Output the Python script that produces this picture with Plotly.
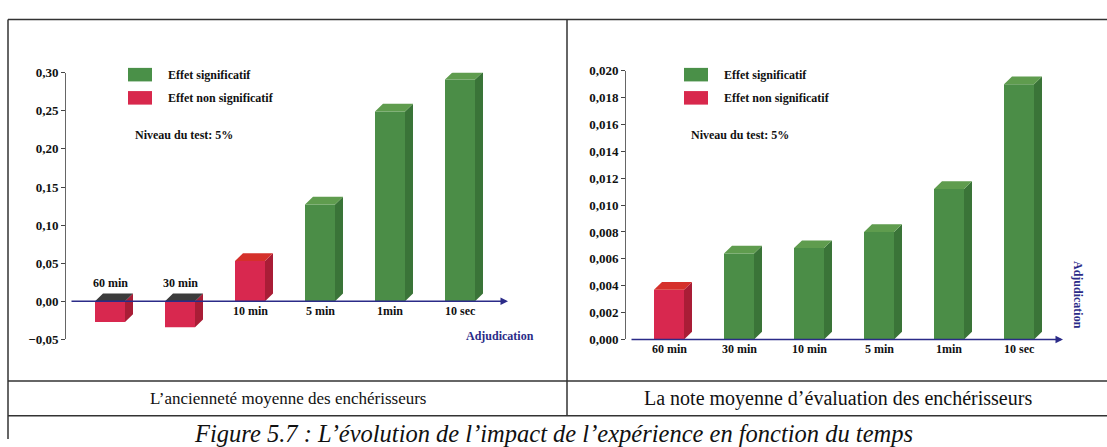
import plotly.graph_objects as go

# ---- data -------------------------------------------------------------
categories_left = ["60 min", "30 min", "10 min", "5 min", "1min", "10 sec"]
values_left = [-0.027, -0.034, 0.053, 0.127, 0.249, 0.291]
significant_left = [False, False, False, True, True, True]

categories_right = ["60 min", "30 min", "10 min", "5 min", "1min", "10 sec"]
values_right = [0.0037, 0.0064, 0.0068, 0.0080, 0.0112, 0.0190]
significant_right = [False, True, True, True, True, True]

ticks_left = [-0.05, 0.0, 0.05, 0.10, 0.15, 0.20, 0.25, 0.30]
ticks_right = [0.0, 0.002, 0.004, 0.006, 0.008, 0.010, 0.012, 0.014, 0.016, 0.018, 0.020]

caption_left = "L’ancienneté moyenne des enchérisseurs"
caption_right = "La note moyenne d’évaluation des enchérisseurs"
figure_caption = "Figure 5.7 : L’évolution de l’impact de l’expérience en fonction du temps"
legend_labels = ["Effet significatif", "Effet non significatif"]
test_level = "Niveau du test: 5%"
axis_title = "Adjudication"

# ---- styling ------------------------------------------------------------
W, H = 1107, 447
FONT = "Liberation Serif"
GREEN_FRONT, GREEN_SIDE, GREEN_TOP = "#4b8d47", "#3a7438", "#5f9c4e"
RED_FRONT, RED_SIDE, RED_TOP = "#d8284f", "#a91d36", "#d5302b"
DARK_TOP = "#3b3b3b"
AXIS_BLUE = "#2b2b88"

PX_PER_CAT = 70.0          # horizontal spacing between categories, pixels
FRONT_W_PX = 30.0          # width of the front face of a bar
DEPTH_X_PX, DEPTH_Y_PX = 8.0, 8.0


def px_x(p):
    return p / W


def px_y(p):
    return 1 - p / H


def paper_text(xp, yp, text, size, color="#111", xanchor="center", **kw):
    return dict(x=px_x(xp), y=px_y(yp), xref="paper", yref="paper", text=text,
                showarrow=False, xanchor=xanchor, yanchor="middle",
                font=dict(family=FONT, size=size, color=color), **kw)


panels = [
    dict(cats=categories_left, vals=values_left, sig=significant_left, ticks=ticks_left,
         fmt=".2f", xa="x", ya="y", x_dom=(66, 510), y_dom=(344, 68),
         first_center=110, yr=(-0.05, 0.30)),
    dict(cats=categories_right, vals=values_right, sig=significant_right, ticks=ticks_right,
         fmt=".3f", xa="x2", ya="y2", x_dom=(626, 1065), y_dom=(344, 66),
         first_center=669, yr=(0.0, 0.020)),
]

fig = go.Figure()
annotations = []
shapes = []

for k, p in enumerate(panels):
    x0px, x1px = p["x_dom"]
    xmin = -(p["first_center"] - x0px) / PX_PER_CAT
    xmax = xmin + (x1px - x0px) / PX_PER_CAT
    p["xr"] = (xmin, xmax)
    px_per_y = (p["y_dom"][0] - p["y_dom"][1]) / (p["yr"][1] - p["yr"][0])
    w = FRONT_W_PX / PX_PER_CAT
    dx = DEPTH_X_PX / PX_PER_CAT
    dy = DEPTH_Y_PX / px_per_y
    idx = list(range(len(p["cats"])))

    # front faces
    fig.add_trace(go.Bar(
        x=idx, y=p["vals"], base=0, width=w,
        marker=dict(color=[GREEN_FRONT if s else RED_FRONT for s in p["sig"]],
                    line=dict(width=0)),
        xaxis=p["xa"], yaxis=p["ya"], showlegend=False, hoverinfo="skip",
    ))

    # side and top faces of each bar
    groups = {}
    for i, v, s in zip(idx, p["vals"], p["sig"]):
        l, r = i - w / 2, i + w / 2
        side = [(r, 0), (r + dx, dy), (r + dx, v + dy), (r, v)]
        top_y = max(v, 0)
        top = [(l, top_y), (l + dx, top_y + dy), (r + dx, top_y + dy), (r, top_y)]
        side_col = GREEN_SIDE if s else RED_SIDE
        top_col = DARK_TOP if v < 0 else (GREEN_TOP if s else RED_TOP)
        for col, poly in ((side_col, side), (top_col, top)):
            xs, ys = groups.setdefault(col, ([], []))
            xs.extend([q[0] for q in poly] + [poly[0][0], None])
            ys.extend([q[1] for q in poly] + [poly[0][1], None])
    for col, (xs, ys) in groups.items():
        fig.add_trace(go.Scatter(
            x=xs, y=ys, mode="lines", fill="toself", fillcolor=col,
            line=dict(width=0, color=col), xaxis=p["xa"], yaxis=p["ya"],
            showlegend=False, hoverinfo="skip",
        ))

    # category labels along the baseline
    for i, c, v in zip(idx, p["cats"], p["vals"]):
        annotations.append(dict(
            x=i, y=0, xref=p["xa"], yref=p["ya"], text=f"<b>{c}</b>", showarrow=False,
            xanchor="center", yanchor="middle", yshift=18 if v < 0 else -10,
            font=dict(family=FONT, size=12, color="#111"),
        ))

    # horizontal axis drawn as an arrow
    annotations.append(dict(
        x=xmin + (x1px - x0px - 2) / PX_PER_CAT, y=0, ax=xmin + 4 / PX_PER_CAT, ay=0,
        xref=p["xa"], yref=p["ya"], axref=p["xa"], ayref=p["ya"], text="",
        showarrow=True, arrowhead=2, arrowsize=1, arrowwidth=1.5, arrowcolor=AXIS_BLUE,
    ))

    # legend swatches and texts
    lx = 128 if k == 0 else 684
    for j, (lab, col) in enumerate(zip(legend_labels, ["#4a9048", "#d8284c"])):
        ytop = 63 + 24 * j
        shapes.append(dict(type="rect", xref="paper", yref="paper",
                           x0=px_x(lx), x1=px_x(lx + 24), y0=px_y(ytop + 14), y1=px_y(ytop),
                           fillcolor=col, line=dict(width=0)))
        annotations.append(paper_text(lx + 38, ytop + 7, f"<b>{lab}</b>", 12, xanchor="left"))
    annotations.append(paper_text(lx + 5, 132, f"<b>{test_level}</b>", 12, xanchor="left"))

# axis titles
annotations.append(paper_text(500, 340, f"<b>{axis_title}</b>", 12, color=AXIS_BLUE))
annotations.append(paper_text(1078, 298, f"<b>{axis_title}</b>", 12, color=AXIS_BLUE,
                              textangle=90))

# captions of the table
annotations.append(paper_text(288, 405, caption_left, 17))
annotations.append(paper_text(838, 405, caption_right, 20))
annotations.append(paper_text(553, 441, f"<i>{figure_caption}</i>", 24.5))

# table frame
LINE = dict(color="#333", width=1.5)
for (xa, ya, xb, yb) in [(8, 13, W, 13), (8, 13, 8, H), (567, 13, 567, 423),
                         (8, 387, W, 387), (8, 423, W, 423)]:
    shapes.append(dict(type="line", xref="paper", yref="paper",
                       x0=px_x(xa), y0=px_y(ya), x1=px_x(xb), y1=px_y(yb), line=LINE))

layout_axes = {}
for k, p in enumerate(panels):
    sfx = "" if k == 0 else "2"
    layout_axes[f"xaxis{sfx}"] = dict(
        domain=[px_x(p["x_dom"][0]), px_x(p["x_dom"][1])], range=list(p["xr"]),
        visible=False, anchor=p["ya"], fixedrange=True)
    layout_axes[f"yaxis{sfx}"] = dict(
        domain=[px_y(p["y_dom"][0]), px_y(p["y_dom"][1])], range=list(p["yr"]),
        anchor=p["xa"], tickvals=p["ticks"], tickformat=p["fmt"], showgrid=False,
        zeroline=False, showline=True, linecolor="#666", linewidth=1,
        ticks="outside", ticklen=4, tickcolor="#444",
        tickfont=dict(family=FONT, size=13, color="#111", weight="bold"),
        fixedrange=True)

fig.update_layout(
    width=W, height=H, margin=dict(l=0, r=0, t=0, b=0),
    paper_bgcolor="white", plot_bgcolor="rgba(0,0,0,0)",
    separators=",.", showlegend=False,
    annotations=annotations, shapes=shapes, **layout_axes,
)

fig.write_html("out.html")
